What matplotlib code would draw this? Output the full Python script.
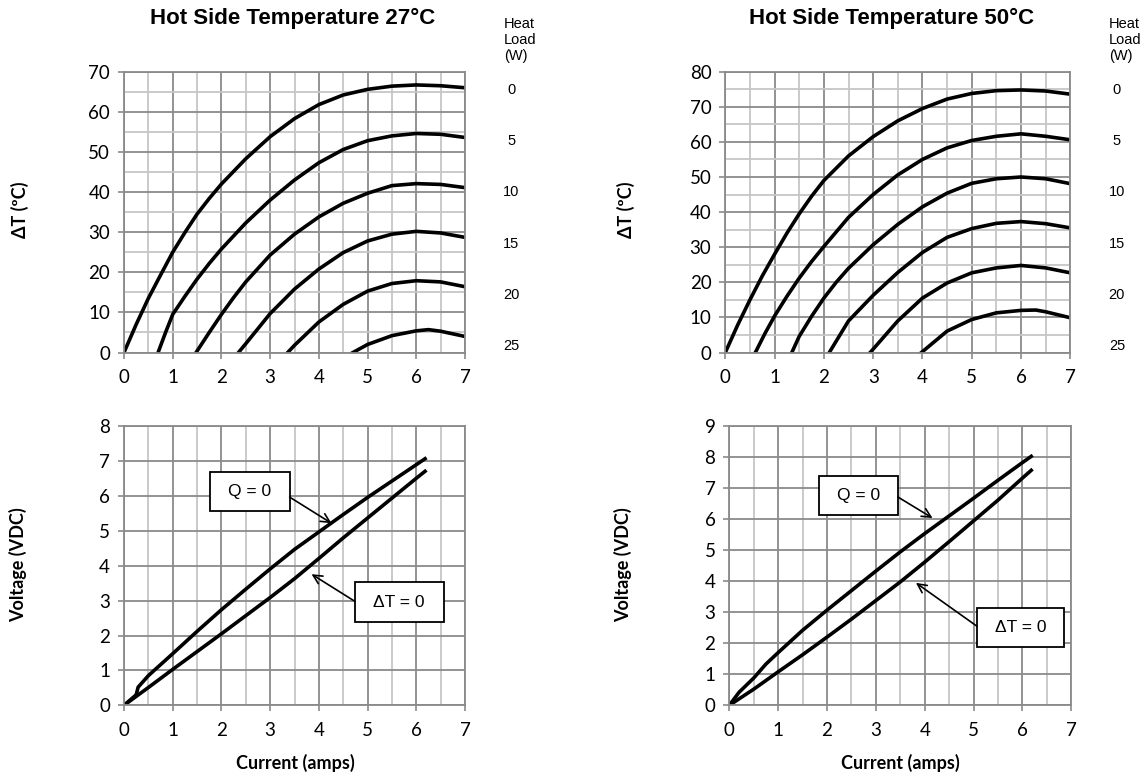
import numpy as np
import matplotlib
matplotlib.use("Agg")
import matplotlib.pyplot as plt
from matplotlib.patches import Rectangle
from matplotlib.ticker import MultipleLocator

# ---- data ----
heat_loads = ["0", "5", "10", "15", "20", "25"]

# dT vs current, hot side 27 C  (one current / dT list per heat load)
i27 = [
    [0, 0.25, 0.5, 0.75, 1.0, 1.25, 1.5, 1.75, 2.0, 2.5, 3.0, 3.5, 4.0, 4.5, 5.0, 5.5, 6.0, 6.5, 7.0],
    [0.70, 0.85, 1.0, 1.25, 1.5, 1.75, 2.0, 2.5, 3.0, 3.5, 4.0, 4.5, 5.0, 5.5, 6.0, 6.5, 7.0],
    [1.48, 1.75, 2.0, 2.25, 2.5, 3.0, 3.5, 4.0, 4.5, 5.0, 5.5, 6.0, 6.5, 7.0],
    [2.35, 2.5, 3.0, 3.5, 4.0, 4.5, 5.0, 5.5, 6.0, 6.5, 7.0],
    [3.36, 3.5, 4.0, 4.5, 5.0, 5.5, 6.0, 6.5, 7.0],
    [4.70, 5.0, 5.5, 6.0, 6.25, 6.5, 7.0],
]
dt27 = [
    [0, 7.0, 13.5, 19.3, 25.0, 29.9, 34.5, 38.4, 42.0, 48.3, 53.8, 58.3, 61.8, 64.2, 65.6, 66.4, 66.7, 66.5, 66.0],
    [0, 4.9, 9.5, 14.0, 18.3, 22.2, 25.8, 32.3, 38.0, 43.0, 47.3, 50.6, 52.8, 54.0, 54.6, 54.4, 53.6],
    [0, 5.0, 9.5, 13.7, 17.6, 24.3, 29.5, 33.8, 37.2, 39.7, 41.6, 42.1, 41.9, 41.1],
    [0, 2.2, 9.7, 15.8, 20.8, 24.9, 27.8, 29.5, 30.2, 29.8, 28.7],
    [0, 1.8, 7.6, 12.0, 15.3, 17.2, 17.9, 17.6, 16.4],
    [0, 2.0, 4.2, 5.4, 5.7, 5.3, 4.0],
]

# dT vs current, hot side 50 C
i50 = [
    [0, 0.25, 0.5, 0.75, 1.0, 1.25, 1.5, 1.75, 2.0, 2.5, 3.0, 3.5, 4.0, 4.5, 5.0, 5.5, 6.0, 6.5, 7.0],
    [0.61, 0.8, 1.0, 1.25, 1.5, 1.75, 2.0, 2.5, 3.0, 3.5, 4.0, 4.5, 5.0, 5.5, 6.0, 6.5, 7.0],
    [1.35, 1.5, 1.75, 2.0, 2.25, 2.5, 3.0, 3.5, 4.0, 4.5, 5.0, 5.5, 6.0, 6.5, 7.0],
    [2.11, 2.5, 3.0, 3.5, 4.0, 4.5, 5.0, 5.5, 6.0, 6.5, 7.0],
    [2.94, 3.5, 4.0, 4.5, 5.0, 5.5, 6.0, 6.5, 7.0],
    [3.98, 4.5, 5.0, 5.5, 6.0, 6.3, 6.5, 7.0],
]
dt50 = [
    [0, 7.8, 15.0, 21.8, 28.0, 34.0, 39.5, 44.5, 49.0, 56.0, 61.5, 66.0, 69.5, 72.2, 73.8, 74.6, 74.8, 74.5, 73.6],
    [0, 5.3, 10.4, 16.0, 21.2, 25.9, 30.2, 38.5, 45.0, 50.6, 55.0, 58.3, 60.4, 61.6, 62.3, 61.6, 60.6],
    [0, 4.6, 10.3, 15.5, 20.0, 24.0, 30.7, 36.5, 41.5, 45.4, 48.2, 49.5, 50.0, 49.5, 48.1],
    [0, 9.0, 16.3, 22.8, 28.5, 32.8, 35.3, 36.8, 37.3, 36.7, 35.5],
    [0, 9.0, 15.5, 19.8, 22.7, 24.1, 24.8, 24.1, 22.7],
    [0, 6.1, 9.4, 11.3, 12.0, 12.1, 11.6, 9.9],
]

# voltage vs current
iq0_27 = [0, 0.25, 0.29, 0.5, 1.0, 1.5, 2.0, 2.5, 3.0, 3.5, 4.0, 4.5, 5.0, 5.5, 6.0, 6.18]
vq0_27 = [0, 0.30, 0.52, 0.85, 1.48, 2.12, 2.74, 3.33, 3.91, 4.47, 4.97, 5.47, 5.96, 6.43, 6.90, 7.07]
idt_27 = [0, 0.5, 1.0, 1.5, 2.0, 2.5, 3.0, 3.5, 4.0, 4.5, 5.0, 5.5, 6.0, 6.18]
vdt_27 = [0, 0.51, 1.03, 1.54, 2.05, 2.57, 3.09, 3.63, 4.21, 4.80, 5.37, 5.94, 6.51, 6.71]

iq0_50 = [0, 0.2, 0.5, 0.75, 1.0, 1.5, 2.0, 2.5, 3.0, 3.5, 4.0, 4.5, 5.0, 5.5, 6.0, 6.18]
vq0_50 = [0, 0.42, 0.88, 1.33, 1.70, 2.42, 3.07, 3.70, 4.33, 4.95, 5.54, 6.11, 6.68, 7.26, 7.83, 8.03]
idt_50 = [0, 0.5, 1.0, 1.5, 2.0, 2.5, 3.0, 3.5, 4.0, 4.5, 5.0, 5.5, 6.0, 6.18]
vdt_50 = [0, 0.52, 1.08, 1.63, 2.20, 2.78, 3.38, 3.98, 4.62, 5.28, 5.95, 6.62, 7.33, 7.58]

# callouts: box (x0, y0, x1, y1), arrow tail, arrow tip  (data units)
q0_box_27 = (1.76, 5.56, 3.40, 6.68)
q0_arrow_27 = ((3.40, 5.97), (4.26, 5.22))
dt_box_27 = (4.74, 2.38, 6.56, 3.53)
dt_arrow_27 = ((4.74, 2.98), (3.85, 3.76))
q0_box_50 = (1.83, 6.13, 3.45, 7.41)
q0_arrow_50 = ((3.45, 6.72), (4.16, 6.04))
dt_box_50 = (5.07, 1.88, 6.86, 3.14)
dt_arrow_50 = ((5.07, 2.55), (3.82, 3.95))

# ---- style ----
W, H = 1143, 777
tick_font = "Lato"
label_font = "Lato"
arial = "Liberation Sans"
major_c = "#8a8a8a"
minor_c = "#c6c6c6"


def style_axes(ax, ymax, ymajor, yminor):
    ax.set_xlim(0, 7)
    ax.set_ylim(0, ymax)
    ax.xaxis.set_major_locator(MultipleLocator(1))
    ax.xaxis.set_minor_locator(MultipleLocator(0.5))
    ax.yaxis.set_major_locator(MultipleLocator(ymajor))
    if yminor:
        ax.yaxis.set_minor_locator(MultipleLocator(yminor))
    ax.grid(which="major", color=major_c, lw=1.3)
    ax.grid(which="minor", color=minor_c, lw=1.3)
    ax.set_axisbelow(True)
    for s in ax.spines.values():
        s.set_color(major_c)
        s.set_linewidth(1.3)
    ax.tick_params(which="major", length=4, width=1.2, color=major_c,
                   labelsize=13.5)
    ax.tick_params(axis="y", which="major", pad=6)
    ax.tick_params(axis="x", which="major", pad=8)
    ax.tick_params(which="minor", length=0)
    for lab in ax.get_xticklabels() + ax.get_yticklabels():
        lab.set_fontfamily(tick_font)


def callout(ax, text, box, arrow):
    x0, y0, x1, y1 = box
    ax.add_patch(Rectangle((x0, y0), x1 - x0, y1 - y0, facecolor="white",
                           edgecolor="black", lw=1.3, zorder=5))
    ax.text((x0 + x1) / 2, (y0 + y1) / 2, text, ha="center", va="center",
            fontsize=12.5, family=arial, zorder=6)
    ax.annotate("", xy=arrow[1], xytext=arrow[0],
                arrowprops=dict(arrowstyle="->", color="black", lw=1.2,
                                mutation_scale=16, shrinkA=0, shrinkB=0),
                zorder=6)


fig = plt.figure(figsize=(W / 100, H / 100), dpi=100)

ax_tl = fig.add_axes([124 / W, 1 - 352.5 / H, 341 / W, 280.8 / H])
ax_tr = fig.add_axes([725.3 / W, 1 - 352.5 / H, 345 / W, 280.8 / H])
ax_bl = fig.add_axes([124 / W, 1 - 705.3 / H, 341 / W, 279 / H])
ax_br = fig.add_axes([729.3 / W, 1 - 705.3 / H, 342 / W, 279 / H])

# ---- top row: dT curves ----
for ax, ii, dd, ymax, hx in [(ax_tl, i27, dt27, 70, 504),
                             (ax_tr, i50, dt50, 80, 1109)]:
    for x, y in zip(ii, dd):
        ax.plot(x, y, color="black", lw=2.6, solid_joinstyle="round")
    style_axes(ax, ymax, 10, 5)
    fig.text(hx / W, 1 - 17 / H, "Heat\nLoad\n(W)", ha="left", va="top",
             fontsize=10.5, family=arial, linespacing=1.2)
    for k, lab in enumerate(heat_loads):
        ax.text(1.135, 0.935 - k * 0.1825, lab, transform=ax.transAxes,
                ha="center", va="center", fontsize=10.5, family=arial)

# ---- bottom row: voltage ----
ax_bl.plot(iq0_27, vq0_27, color="black", lw=2.6, solid_joinstyle="round")
ax_bl.plot(idt_27, vdt_27, color="black", lw=2.6, solid_joinstyle="round")
style_axes(ax_bl, 8, 1, None)
callout(ax_bl, "Q = 0", q0_box_27, q0_arrow_27)
callout(ax_bl, "\u0394T = 0", dt_box_27, dt_arrow_27)

ax_br.plot(iq0_50, vq0_50, color="black", lw=2.6, solid_joinstyle="round")
ax_br.plot(idt_50, vdt_50, color="black", lw=2.6, solid_joinstyle="round")
style_axes(ax_br, 9, 1, None)
callout(ax_br, "Q = 0", q0_box_50, q0_arrow_50)
callout(ax_br, "\u0394T = 0", dt_box_50, dt_arrow_50)

# ---- titles and axis labels ----
fig.text(293 / W, 1 - 18 / H, "Hot Side Temperature 27\u00b0C", ha="center",
         va="center", fontsize=16, fontweight="bold", family=arial)
fig.text(892 / W, 1 - 18 / H, "Hot Side Temperature 50\u00b0C", ha="center",
         va="center", fontsize=16, fontweight="bold", family=arial)

for x in (20, 626):
    fig.text(x / W, 1 - 210 / H, "\u0394T (\u00baC)", rotation=90, ha="center",
             va="center", fontsize=13, fontweight="bold", family=label_font)
for x in (18, 623):
    fig.text(x / W, 1 - 565 / H, "Voltage (VDC)", rotation=90, ha="center",
             va="center", fontsize=13, fontweight="bold", family=label_font)
for x in (295, 900):
    fig.text(x / W, 1 - 763 / H, "Current (amps)", ha="center", va="center",
             fontsize=13, fontweight="bold", family=label_font)

fig.savefig("out.png", dpi=100, facecolor="white")
